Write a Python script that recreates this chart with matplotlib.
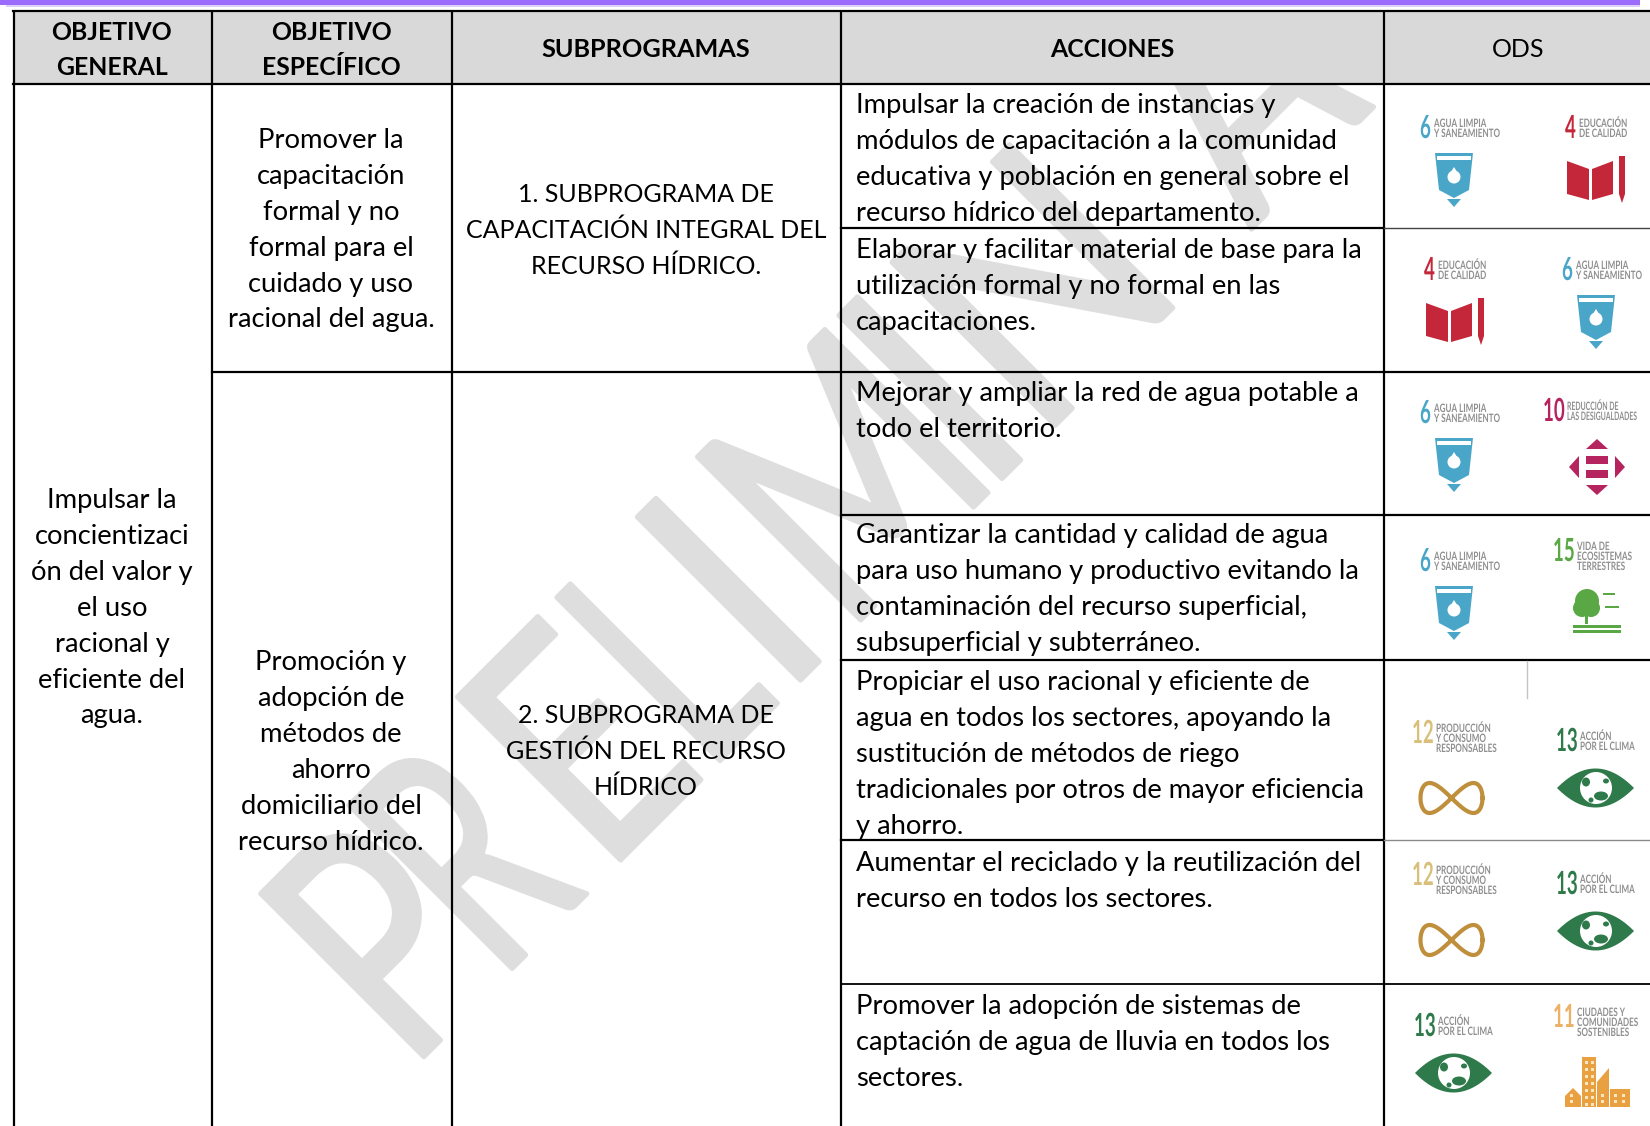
import numpy as np
import matplotlib
matplotlib.use("Agg")
import matplotlib.pyplot as plt
from matplotlib.patches import Rectangle, Polygon, Ellipse, Circle
from matplotlib.patheffects import AbstractPathEffect
from matplotlib.transforms import Affine2D

# Textos de la tabla
encabezados = [["OBJETIVO", "GENERAL"], ["OBJETIVO", "ESPECÍFICO"], ["SUBPROGRAMAS"], ["ACCIONES"], ["ODS"]]
objetivo_general = ["Impulsar la", "concientizaci", "ón del valor y", "el uso", "racional y", "eficiente del", "agua."]
objetivo_1 = ["Promover la", "capacitación", "formal y no", "formal para el", "cuidado y uso", "racional del agua."]
objetivo_2 = ["Promoción y", "adopción de", "métodos de", "ahorro", "domiciliario del", "recurso hídrico."]
subprograma_1 = ["1. SUBPROGRAMA DE", "CAPACITACIÓN INTEGRAL DEL", "RECURSO HÍDRICO."]
subprograma_2 = ["2. SUBPROGRAMA DE", "GESTIÓN DEL RECURSO", "HÍDRICO"]
acciones = [
    ["Impulsar la creación de instancias y", "módulos de capacitación a la comunidad",
     "educativa y población en general sobre el", "recurso hídrico del departamento."],
    ["Elaborar y facilitar material de base para la", "utilización formal y no formal en las", "capacitaciones."],
    ["Mejorar y ampliar la red de agua potable a", "todo el territorio."],
    ["Garantizar la cantidad y calidad de agua", "para uso humano y productivo evitando la",
     "contaminación del recurso superficial,", "subsuperficial y subterráneo."],
    ["Propiciar el uso racional y eficiente de", "agua en todos los sectores, apoyando la",
     "sustitución de métodos de riego", "tradicionales por otros de mayor eficiencia", "y ahorro."],
    ["Aumentar el reciclado y la reutilización del", "recurso en todos los sectores."],
    ["Promover la adopción de sistemas de", "captación de agua de lluvia en todos los", "sectores."],
]
base_acciones = [113, 258, 401, 543, 690, 871, 1014]

# Marca de agua: letra, avance a lo largo de la diagonal y ancho relativo
marca_letras = list("PRELIMINAR")
marca_avance = [-470, -341, -193, -47, 60, 148, 345, 419, 722, 930]
marca_ancho = [0.76, 0.62, 0.80, 0.62, 0.85, 0.75, 0.85, 0.89, 0.80, 0.62]

# ODS de cada fila: (numero, x, y)
ods_filas = [(6, 1420, 115), (4, 1565, 115), (4, 1424, 257), (6, 1562, 257), (6, 1420, 400), (10, 1543, 398),
             (6, 1420, 548), (15, 1553, 538), (12, 1412, 720), (13, 1556, 728), (12, 1412, 862), (13, 1556, 871),
             (13, 1414, 1013), (11, 1553, 1004)]
ods_texto = {
    4: "EDUCACIÓN\nDE CALIDAD", 6: "AGUA LIMPIA\nY SANEAMIENTO", 10: "REDUCCIÓN DE\nLAS DESIGUALDADES",
    11: "CIUDADES Y\nCOMUNIDADES\nSOSTENIBLES", 12: "PRODUCCIÓN\nY CONSUMO\nRESPONSABLES",
    13: "ACCIÓN\nPOR EL CLIMA", 15: "VIDA DE\nECOSISTEMAS\nTERRESTRES",
}
ods_color = {4: "#c5273a", 6: "#4aa6c8", 10: "#b5245f", 11: "#eeb064", 12: "#d9c07a", 13: "#2f7a4a", 15: "#5aa845"}

plt.rcParams['font.family'] = ['Lato', 'DejaVu Sans']
FS = 19.7
FS_CAPS = 18.0
FS_NEGRITA = 17.8
LINEA = 35.9


# Deforma el texto al dibujarlo (la fuente estrecha no esta instalada)
class Estirado(AbstractPathEffect):
    def __init__(self, sx=1.0, sy=1.0, borde=0.0):
        super().__init__()
        self.sx = sx
        self.sy = sy
        self.borde = borde

    def draw_path(self, renderer, gc, tpath, affine, rgbFace=None):
        if self.borde:
            gc.set_linewidth(self.borde)
            gc.set_joinstyle('round')
            gc.set_foreground(rgbFace)
        renderer.draw_path(gc, tpath, Affine2D().scale(self.sx, self.sy) + affine, rgbFace)


fig = plt.figure(figsize=(16.5, 11.26), dpi=100)
ax = fig.add_axes([0, 0, 1, 1])
ax.set_xlim(0, 1650)
ax.set_ylim(1126, 0)
ax.axis('off')

# Marca de agua
v = 1047
for letra, u, ancho in zip(marca_letras, marca_avance, marca_ancho):
    ax.text((u + v) / np.sqrt(2), (v - u) / np.sqrt(2), letra, rotation=45, rotation_mode='anchor',
            ha='left', va='baseline', fontsize=232, color='#dedede', zorder=1, clip_on=True,
            path_effects=[Estirado(sx=ancho, borde=3.5)])

# Barra superior y encabezado
ax.add_patch(Rectangle((0, 0), 1640, 4.5, color='#9b6cfb', lw=0, zorder=3))
ax.add_patch(Rectangle((6, 4.5), 1634, 2.5, color='#ddd0f5', lw=0, zorder=3))
ax.add_patch(Rectangle((0, 7), 1650, 77, color='white', lw=0, zorder=2))
ax.add_patch(Rectangle((14, 11), 1636, 73, color='#d9d9d9', lw=0, zorder=3))

# Lineas de la tabla
for x in [14, 212, 452, 841, 1384]:
    ax.plot([x, x], [10, 1126], color='black', lw=1.6, zorder=5, solid_capstyle='butt')
ax.plot([13, 1650], [11, 11], color='black', lw=1.6, zorder=5)
ax.plot([13, 1650], [84, 84], color='black', lw=1.6, zorder=5)
ax.plot([212, 1650], [372, 372], color='black', lw=1.6, zorder=5)
for y in [515, 660]:
    ax.plot([841, 1650], [y, y], color='black', lw=1.6, zorder=5)
ax.plot([841, 1384], [228, 228], color='black', lw=1.6, zorder=5)
ax.plot([1384, 1650], [228, 228], color='#444444', lw=1.0, zorder=5)
ax.plot([841, 1384], [840, 840], color='black', lw=1.6, zorder=5)
ax.plot([1384, 1650], [840, 840], color='#8a8a8a', lw=1.0, zorder=5)
ax.plot([841, 1650], [984, 984], color='black', lw=1.3, zorder=5)
ax.plot([1527, 1527], [661, 698], color='#c4c4c4', lw=1.0, zorder=5)


def bloque(lineas, x, y0, ha='center', fs=FS, **kw):
    for i, t in enumerate(lineas):
        ax.text(x, y0 + i * LINEA, t, ha=ha, va='baseline', fontsize=fs, color='black', zorder=6, **kw)


bloque(encabezados[0], 112, 39.5, fs=FS_NEGRITA, fontweight='bold')
bloque(encabezados[1], 331, 39.5, fs=FS_NEGRITA, fontweight='bold')
bloque(encabezados[2], 646, 57, fs=18.2, fontweight='bold')
bloque(encabezados[3], 1112, 57, fs=FS_NEGRITA, fontweight='bold')
bloque(encabezados[4], 1518, 57, fs=FS_CAPS)
bloque(objetivo_general, 112, 508)
bloque(objetivo_1, 331, 148)
bloque(objetivo_2, 331, 670)
bloque(subprograma_1, 646, 202, fs=FS_CAPS)
bloque(subprograma_2, 646, 723, fs=FS_CAPS)
for lineas, b in zip(acciones, base_acciones):
    bloque(lineas, 856, b, ha='left')


# Iconos de los ODS
def vaso(x, y, c):
    ax.add_patch(Polygon([(x + 15, y + 38), (x + 53, y + 38), (x + 49, y + 75), (x + 34, y + 83), (x + 19, y + 75)],
                         color=c, lw=0, zorder=4))
    ax.add_patch(Rectangle((x + 17, y + 41), 34, 4, color='white', lw=0, zorder=4))
    ax.add_patch(Circle((x + 34, y + 62), 6.5, color='white', lw=0, zorder=4))
    ax.add_patch(Polygon([(x + 34, y + 52), (x + 29, y + 60), (x + 39, y + 60)], color='white', lw=0, zorder=4))
    ax.add_patch(Polygon([(x + 27, y + 84), (x + 41, y + 84), (x + 34, y + 92)], color=c, lw=0, zorder=4))


def libro(x, y, c):
    ax.add_patch(Polygon([(x + 2, y + 46), (x + 24, y + 54), (x + 24, y + 85), (x + 2, y + 79)],
                         color=c, lw=0, zorder=4))
    ax.add_patch(Polygon([(x + 27, y + 54), (x + 48, y + 46), (x + 48, y + 79), (x + 27, y + 85)],
                         color=c, lw=0, zorder=4))
    ax.add_patch(Rectangle((x + 54, y + 41), 6, 38, color=c, lw=0, zorder=4))
    ax.add_patch(Polygon([(x + 54, y + 79), (x + 60, y + 79), (x + 57, y + 88)], color=c, lw=0, zorder=4))


def flechas(x, y, c):
    cx, cy = x + 54, y + 69
    for dy in [-7, 7]:
        ax.add_patch(Rectangle((cx - 11, cy + dy - 4), 22, 8, color=c, lw=0, zorder=4))
    for s in [-1, 1]:
        ax.add_patch(Polygon([(cx - 11, cy + s * 18), (cx + 11, cy + s * 18), (cx, cy + s * 28)],
                             color=c, lw=0, zorder=4))
        ax.add_patch(Polygon([(cx + s * 18, cy - 11), (cx + s * 18, cy + 11), (cx + s * 28, cy)],
                             color=c, lw=0, zorder=4))


def arbol(x, y, c):
    ax.add_patch(Circle((x + 34, y + 63), 12, color=c, lw=0, zorder=4))
    ax.add_patch(Circle((x + 29, y + 70), 9, color=c, lw=0, zorder=4))
    ax.add_patch(Circle((x + 38, y + 70), 9, color=c, lw=0, zorder=4))
    ax.add_patch(Rectangle((x + 32, y + 76), 3, 10, color=c, lw=0, zorder=4))
    ax.add_patch(Rectangle((x + 20, y + 87), 48, 3, color=c, lw=0, zorder=4))
    ax.add_patch(Rectangle((x + 20, y + 92), 48, 3, color=c, lw=0, zorder=4))
    ax.add_patch(Rectangle((x + 50, y + 55), 12, 1.5, color=c, lw=0, zorder=4))
    ax.add_patch(Rectangle((x + 52, y + 68), 14, 1.5, color=c, lw=0, zorder=4))


def infinito(x, y):
    t = np.linspace(0, 2 * np.pi, 120)
    ax.plot(x + 39.5 + 31 * np.cos(t), y + 78 + 15 * np.sin(2 * t), color='#bf8f3c', lw=3, zorder=4)


def ojo(x, y, c):
    t = np.linspace(-1, 1, 40)
    arriba = np.column_stack([x + 39.5 + 38.5 * t, y + 60 - 19.5 * (1 - t ** 2)])
    abajo = np.column_stack([x + 39.5 + 38.5 * t[::-1], y + 60 + 19.5 * (1 - t ** 2)])
    ax.add_patch(Polygon(np.vstack([arriba, abajo]), color=c, lw=0, zorder=4))
    ax.add_patch(Circle((x + 40, y + 60), 16, color='white', lw=0, zorder=4))
    ax.add_patch(Ellipse((x + 45, y + 68), 14, 9, color=c, lw=0, zorder=4))
    ax.add_patch(Ellipse((x + 30, y + 54), 8, 9, color=c, lw=0, zorder=4))
    ax.add_patch(Ellipse((x + 50, y + 53), 6, 5, color=c, lw=0, zorder=4))
    ax.add_patch(Ellipse((x + 35, y + 72), 5, 5, color=c, lw=0, zorder=4))


def ciudad(x, y, c):
    ax.add_patch(Rectangle((x + 29, y + 53), 14, 50, color=c, lw=0, zorder=4))
    ax.add_patch(Polygon([(x + 44, y + 78), (x + 56, y + 64), (x + 56, y + 103), (x + 44, y + 103)],
                         color=c, lw=0, zorder=4))
    ax.add_patch(Polygon([(x + 12, y + 92), (x + 20, y + 84), (x + 28, y + 92), (x + 28, y + 103), (x + 12, y + 103)],
                         color=c, lw=0, zorder=4))
    ax.add_patch(Rectangle((x + 57, y + 85), 20, 18, color=c, lw=0, zorder=4))
    for px in [x + 32, x + 38]:
        for py in np.arange(y + 57, y + 100, 7):
            ax.add_patch(Rectangle((px, py), 3, 3, color='#fbe6c2', lw=0, zorder=4))
    for px in [x + 17, x + 48, x + 61, x + 69]:
        for py in np.arange(y + 90, y + 101, 6):
            ax.add_patch(Rectangle((px, py), 3, 3, color='#fbe6c2', lw=0, zorder=4))


def ods(n, x, y):
    c = ods_color[n]
    ax.text(x, y + 23, str(n), ha='left', va='baseline', fontsize=13.5, color=c, zorder=4,
            fontweight='bold', path_effects=[Estirado(sy=1.7)])
    dx = 14 if n < 10 else 24
    sx = 0.95 if n == 10 else 1.12
    ax.text(x + dx, y + 6, ods_texto[n], ha='left', va='top', fontsize=5.2, color='#8f8f8f', zorder=4,
            linespacing=1.5, fontweight='bold', path_effects=[Estirado(sx=sx, sy=1.6)])
    if n == 6:
        vaso(x, y, c)
    elif n == 4:
        libro(x, y, c)
    elif n == 10:
        flechas(x, y, c)
    elif n == 15:
        arbol(x, y, c)
    elif n == 12:
        infinito(x, y)
    elif n == 13:
        ojo(x, y, c)
    elif n == 11:
        ciudad(x, y, '#e8a040')


for n, x, y in ods_filas:
    ods(n, x, y)

fig.savefig("out.png", dpi=100)
